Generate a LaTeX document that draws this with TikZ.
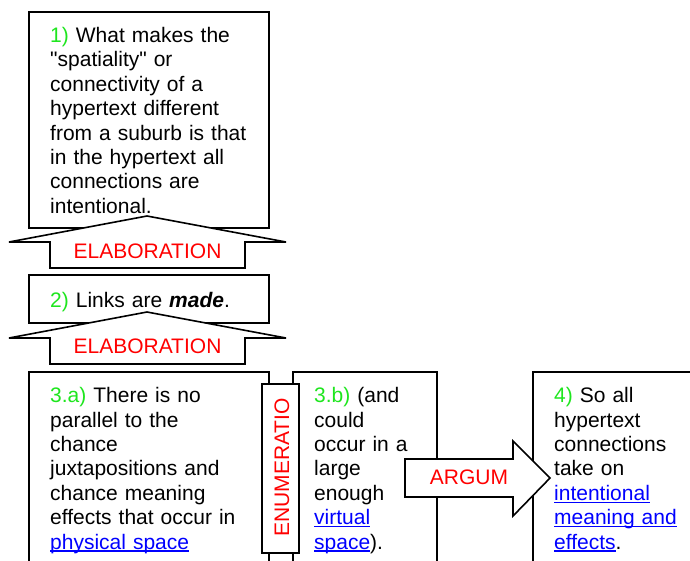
\documentclass[tikz,border=0pt]{standalone}
\usepackage{fontspec}
\setmainfont{Liberation Sans}[Ligatures=TeXOff]
\definecolor{numgreen}{RGB}{30,230,30}
\definecolor{relred}{RGB}{255,0,0}
\definecolor{linkblue}{RGB}{0,0,255}
% hyperlink-style text: blue with a solid underline
\newcommand\hlink[1]{\textcolor{linkblue}{\setbox0=\hbox{#1}\rlap{\rule[-2.6pt]{\wd0}{1.3pt}}\box0}}
\newcommand\num[1]{\textcolor{numgreen}{#1}}
\tikzset{
  seg/.style={draw=black, line width=1.6pt, fill=white, inner sep=0pt, outer sep=0pt, anchor=north west},
  body/.style={anchor=base west, inner sep=0pt, text width=240pt, align=left,
    font=\fontsize{21}{24.4}\selectfont},
  rel/.style={text=relred, inner sep=0pt, anchor=base, font=\fontsize{21}{24.4}\selectfont},
  blockarrow/.style={draw=black, line width=1.6pt, fill=white, line join=miter}
}
\begin{document}
\begin{tikzpicture}[x=1pt,y=-1pt]
\useasboundingbox (0,0) rectangle (690,560);
\begin{scope}
\clip (0,0) rectangle (690,560);
% segment boxes
\node[seg, minimum width=240pt, minimum height=216pt] (s1) at (29,12) {};
\node[seg, minimum width=240pt, minimum height=48pt] (s2) at (29,275) {};
% elaboration arrows (pointing up to the nucleus)
\draw[blockarrow] (147,216) -- (286,242) -- (245,242) -- (245,268) -- (50,268)
  -- (50,242) -- (9,242) -- cycle;
\draw[blockarrow] (147,312) -- (286,338) -- (245,338) -- (245,364) -- (50,364)
  -- (50,338) -- (9,338) -- cycle;
% lower row
\node[seg, minimum width=240pt, minimum height=230pt] (s3a) at (29,372) {};
\node[seg, minimum width=144pt, minimum height=230pt] (s3b) at (293,372) {};
\node[seg, minimum width=200pt, minimum height=230pt] (s4) at (533,372) {};
\node[seg, minimum width=37pt, minimum height=169pt] (enum) at (262,384) {};
% argument arrow
\draw[blockarrow] (405,459) -- (513,459) -- (513,441) -- (550,478) -- (513,516)
  -- (513,497) -- (405,497) -- cycle;
\end{scope}
% texts
\node[body] (t1) at (50,42.5) {\num{1)} What makes the\\
  "spatiality" or\\ connectivity of a\\ hypertext different\\
  from a suburb is that\\ in the hypertext all\\ connections are\\ intentional.};
\node[body] (t2) at (50,307) {\num{2)} Links are \textbf{\textit{made}}.};
\node[rel] (e1) at (147.5,258) {ELABORATION};
\node[rel] (e2) at (147.5,353) {ELABORATION};
\node[body] (t3a) at (50,402.7) {\num{3.a)} There is no\\ parallel to the\\ chance\\
  juxtapositions and\\ chance meaning\\ effects that occur in\\ \hlink{physical space}};
\node[body, text width=120pt] (t3b) at (314,402.7) {\num{3.b)} (and\\ could\\ occur in a\\
  large\\ enough\\ \hlink{virtual}\\ \hlink{space}).};
\node[body, text width=140pt] (t4) at (554,402.7) {\num{4)} So all\\ hypertext\\ connections\\
  take on\\ \hlink{intentional}\\ \hlink{meaning and}\\ \hlink{effects}.};
\node[rel, rotate=90] (en) at (289,467.5) {ENUMERATIO};
\node[rel] (ar) at (469,484) {ARGUM};
\end{tikzpicture}
\end{document}
